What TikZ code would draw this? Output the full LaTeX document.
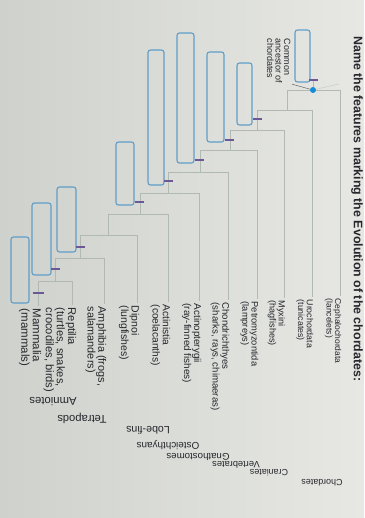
\documentclass[tikz,border=0pt]{standalone}
\usepackage{fontspec}
\setmainfont{Liberation Sans}
\usetikzlibrary{calc}

\definecolor{paperdark}{RGB}{207,209,204}
\definecolor{paperlight}{RGB}{231,232,228}
\definecolor{treegray}{RGB}{176,186,176}
\definecolor{boxblue}{RGB}{95,158,200}
\definecolor{tickpurple}{RGB}{108,88,150}
\definecolor{dotblue}{RGB}{20,140,215}
\definecolor{inkgray}{RGB}{38,38,44}

\begin{document}
\begin{tikzpicture}[
  x=1pt, y=-1pt,
  tree/.style={draw=treegray, line width=0.9pt},
  ansbox/.style={draw=boxblue, line width=1.1pt, rounded corners=2.5pt, inner sep=0pt},
  featuretick/.style={draw=tickpurple, line width=1.4pt},
  taxon/.style={rotate=-90, anchor=north west, align=left, inner sep=0.5pt, text=inkgray,
    font=\fontsize{#1}{#1}\selectfont},
  clade/.style={rotate=180, inner sep=0pt, text=inkgray, font=\fontsize{#1}{#1}\selectfont},
  ancdot/.style={circle, fill=dotblue, inner sep=0pt, minimum size=6pt}
]

% Paper
\shade[left color=paperdark, right color=paperlight] (0,0) rectangle (364,518);
\useasboundingbox (0,0) rectangle (364,518);

% Title
\node[rotate=-90, anchor=north west, inner sep=0pt, text=inkgray,
      font=\fontsize{12.4}{14}\selectfont\bfseries] (title) at (363,36)
  {Name the features marking the Evolution of the chordates:};

% Taxa
\node[taxon=8.5]  (ceph)    at (342,298) {Cephalochordata\\(lancelets)};
\node[taxon=8.8]  (uro)     at (314,299) {Urochordata\\(tunicates)};
\node[taxon=9.1]  (myxini)  at (286,300) {Myxini\\(hagfishes)};
\node[taxon=9.3]  (petro)   at (259,301) {Petromyzontida\\(lampreys)};
\node[taxon=9.6]  (chondr)  at (230,302) {Chondrichthyes\\(sharks, rays, chimaeras)};
\node[taxon=9.9]  (actinop) at (202,303) {Actinopterygii\\(ray-finned fishes)};
\node[taxon=10.2] (actinis) at (171,304) {Actinistia\\(coelacanths)};
\node[taxon=10.5] (dipnoi)  at (140,305) {Dipnoi\\(lungfishes)};
\node[taxon=10.9] (amphib)  at (107,306) {Amphibia (frogs,\\salamanders)};
\node[taxon=11.2] (reptil)  at (77,307)  {Reptilia\\(turtles, snakes,\\crocodiles, birds)};
\node[taxon=11.5] (mammal)  at (42,308)  {Mammalia\\(mammals)};

% Branch points
\coordinate (n1l) at (287,90);  \coordinate (n1r) at (340,90);
\coordinate (n2l) at (257,110); \coordinate (n2r) at (312,110);
\coordinate (n3l) at (230,130); \coordinate (n3r) at (284,130);
\coordinate (n4l) at (200,150); \coordinate (n4r) at (257,150);
\coordinate (n5l) at (168,172); \coordinate (n5r) at (228,172);
\coordinate (n6l) at (140,193); \coordinate (n6r) at (199,193);
\coordinate (n7l) at (108,214); \coordinate (n7r) at (168,214);
\coordinate (n8l) at (80,235);  \coordinate (n8r) at (137,235);
\coordinate (n9l) at (55,258);  \coordinate (n9r) at (104,258);
\coordinate (n10l) at (38,281); \coordinate (n10r) at (72,281);

\draw[tree] (n1l) -- (n1r);
\draw[tree] (n2l) -- (n2r);
\draw[tree] (n3l) -- (n3r);
\draw[tree] (n4l) -- (n4r);
\draw[tree] (n5l) -- (n5r);
\draw[tree] (n6l) -- (n6r);
\draw[tree] (n7l) -- (n7r);
\draw[tree] (n8l) -- (n8r);
\draw[tree] (n9l) -- (n9r);
\draw[tree] (n10l) -- (n10r);

% Stems
\draw[tree] (n1l) -- (n1l |- n2l);
\draw[tree] (n2l) -- (n2l |- n3l);
\draw[tree] (n3l) -- (n3l |- n4l);
\draw[tree] (n4l) -- (n4l |- n5l);
\draw[tree] (n5l) -- (n5l |- n6l);
\draw[tree] (n6l) -- (n6l |- n7l);
\draw[tree] (n7l) -- (n7l |- n8l);
\draw[tree] (n8l) -- (n8l |- n9l);
\draw[tree] (n9l) -- (n9l |- n10l);

% Leaves
\draw[tree, shorten >=2pt] (n1r) -- (n1r |- ceph.west);
\draw[tree, shorten >=2pt] (n2r) -- (n2r |- uro.west);
\draw[tree, shorten >=2pt] (n3r) -- (n3r |- myxini.west);
\draw[tree, shorten >=2pt] (n4r) -- (n4r |- petro.west);
\draw[tree, shorten >=2pt] (n5r) -- (n5r |- chondr.west);
\draw[tree, shorten >=2pt] (n6r) -- (n6r |- actinop.west);
\draw[tree, shorten >=2pt] (n7r) -- (n7r |- actinis.west);
\draw[tree, shorten >=2pt] (n8r) -- (n8r |- dipnoi.west);
\draw[tree, shorten >=2pt] (n9r) -- (n9r |- amphib.west);
\draw[tree, shorten >=2pt] (n10r) -- (n10r |- reptil.west);
\draw[tree, shorten >=2pt] (n10l) -- (n10l |- mammal.west);

% Common ancestor
\node[ancdot] (root) at (313,90) {};
\coordinate (rootstem) at (313,80);
\coordinate (rootfaint) at (339,84);
\draw[tree] (rootstem) -- (root);
\draw[treegray!70, line width=0.6pt] (root) -- (rootfaint);
\node[rotate=-90, anchor=north west, align=left, inner sep=0.5pt, text=inkgray,
      font=\fontsize{9}{8.5}\selectfont] (ancestor) at (291,38)
  {Common\\ancestor of\\chordates};
\draw[inkgray!70, line width=0.5pt, shorten <=1pt] (ancestor.north east) -- (root);

% Answer boxes
\node[ansbox, minimum width=15pt, minimum height=52pt]  (b1) at (302.5,56) {};
\node[ansbox, minimum width=15pt, minimum height=62pt]  (b2) at (244.5,94) {};
\node[ansbox, minimum width=17pt, minimum height=90pt]  (b3) at (215.5,97) {};
\node[ansbox, minimum width=17pt, minimum height=130pt] (b4) at (185.5,98) {};
\node[ansbox, minimum width=16pt, minimum height=135pt] (b5) at (156,117.5) {};
\node[ansbox, minimum width=18pt, minimum height=63pt]  (b6) at (125,173.5) {};
\node[ansbox, minimum width=19pt, minimum height=65pt]  (b7) at (66.5,219.5) {};
\node[ansbox, minimum width=19pt, minimum height=72pt]  (b8) at (41.5,239) {};
\node[ansbox, minimum width=18pt, minimum height=66pt]  (b9) at (20,270) {};

% Feature marks
\coordinate (t1) at (313,80);
\coordinate (t2) at (257,119);
\coordinate (t3) at (229,140);
\coordinate (t4) at (199,160);
\coordinate (t5) at (168.5,181);
\coordinate (t6) at (139,202);
\coordinate (t7) at (80,247);
\coordinate (t8) at (55,269);
\coordinate (t9) at (38,293);
\draw[featuretick] ([xshift=-4.5pt]t1) -- ([xshift=4.5pt]t1);
\draw[featuretick] ([xshift=-4.5pt]t2) -- ([xshift=4.5pt]t2);
\draw[featuretick] ([xshift=-4.5pt]t3) -- ([xshift=4.5pt]t3);
\draw[featuretick] ([xshift=-4.5pt]t4) -- ([xshift=4.5pt]t4);
\draw[featuretick] ([xshift=-4.5pt]t5) -- ([xshift=4.5pt]t5);
\draw[featuretick] ([xshift=-4.5pt]t6) -- ([xshift=4.5pt]t6);
\draw[featuretick] ([xshift=-4.5pt]t7) -- ([xshift=4.5pt]t7);
\draw[featuretick] ([xshift=-4.5pt]t8) -- ([xshift=4.5pt]t8);
\draw[featuretick] ([xshift=-5.5pt]t9) -- ([xshift=5.5pt]t9);

% Clade names
\node[clade=8.9]  (chordates) at (322,483) {Chordates};
\node[clade=8.9]  (craniates) at (269,473) {Craniates};
\node[clade=9.3]  (vertebr)   at (236,465) {Vertebrates};
\node[clade=9.7]  (gnatho)    at (198,457) {Gnathostomes};
\node[clade=9.9]  (osteich)   at (168,445) {Osteichthyans};
\node[clade=10.6] (lobefins)  at (148,430) {Lobe-fins};
\node[clade=11.2] (tetrapods) at (82,418)  {Tetrapods};
\node[clade=11.3] (amniotes)  at (53,402)  {Amniotes};

\end{tikzpicture}
\end{document}
